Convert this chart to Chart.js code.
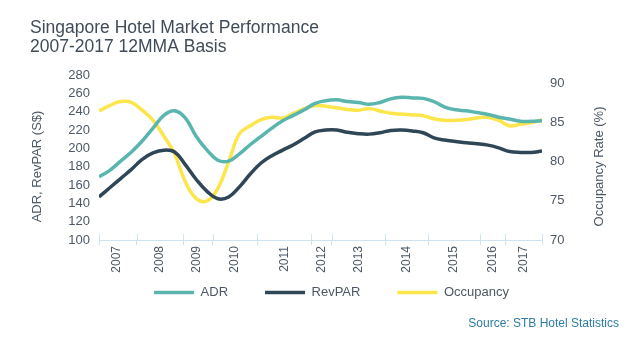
<!DOCTYPE html>
<html>
<head>
<meta charset="utf-8">
<script src="https://cdn.jsdelivr.net/npm/chart.js@4.4.0/dist/chart.umd.min.js"></script>
<style>
  html, body { margin: 0; padding: 0; background: #fff; }
  #wrap { width: 638px; height: 362px; }
</style>
</head>
<body>
<div id="wrap"><canvas id="hotelChart" width="638" height="362"></canvas></div>
<script>
// ---- DATA (quarterly samples of the 12MMA series) ----
const years = ['2007', '2008', '2009', '2010', '2011', '2012', '2013', '2014', '2015', '2016', '2017'];
// year separators and label centres, in sample units
const yearBounds = [0, 3.5, 7.8, 10.55, 14.65, 19.65, 21.55, 26.5, 30.45, 35.3, 37.6, 41];
const yearMids = [1.65, 5.65, 9.05, 12.6, 17.2, 20.65, 24.05, 28.5, 32.8, 36.4, 39.35];

const adr = [169, 176, 186, 196, 208, 222, 236, 241, 233, 213, 198, 187, 186, 194, 204, 213, 222, 230, 236, 242,
  249, 252, 253, 251, 250, 248, 250, 254, 255.6, 255, 254.5, 251, 245, 242, 241, 239, 237, 234, 232, 229.5, 229.5, 230];
const revpar = [147, 157, 167, 177, 188, 195, 198, 196, 182, 166, 153, 145, 147, 158, 172, 184, 192, 198, 204, 211,
  218, 220, 220, 217.5, 216, 215.5, 217, 219.5, 220, 219, 217, 211.5, 209, 207.5, 206, 205, 203.5, 200.5, 196.5, 195.5, 195.5, 197];
const occupancy = [86.5, 87.2, 87.7, 87.6, 86.6, 85.3, 83.3, 81, 77.4, 75.3, 75, 76.6, 80, 83.6, 84.6, 85.4, 85.7, 85.6, 86.2, 86.8,
  87.2, 87.1, 86.9, 86.7, 86.6, 86.8, 86.5, 86.2, 86.1, 86, 85.9, 85.5, 85.3, 85.3, 85.4, 85.6, 85.7, 85.3, 84.6, 84.8, 85, 85.4];

const leftTicks = [100, 120, 140, 160, 180, 200, 220, 240, 260, 280];
const rightTicks = [70, 75, 80, 85, 90];

// ---- STYLE ----
Chart.defaults.font.family = "'Liberation Sans', Arial, sans-serif";
Chart.defaults.color = '#4d5866';
const axisBlue = '#cfe2f2';
const textGrey = '#4d5866';

const toPts = arr => arr.map((v, i) => ({ x: i, y: v }));
const isBound = v => yearBounds.includes(v);

// axis titles (both read bottom-to-top), source note, tick marks crossing the x axis
const extras = {
  id: 'extras',
  afterLayout(chart) {
    // pull the legend up under the rotated year labels
    const lg = chart.legend;
    if (lg) { lg.top -= 27; lg.bottom -= 27; lg.left += 7; lg.right += 7; }
  },
  afterDraw(chart) {
    const { ctx, chartArea, scales } = chart;
    const midY = (chartArea.top + chartArea.bottom) / 2 + 9;
    ctx.save();
    ctx.fillStyle = textGrey;
    ctx.font = "13px 'Liberation Sans', Arial, sans-serif";
    ctx.textAlign = 'center';
    ctx.textBaseline = 'middle';
    [[scales.y.left + 7, 'ADR, RevPAR (S$)'], [scales.y1.right - 20, 'Occupancy Rate (%)']].forEach(([x, t]) => {
      ctx.save();
      ctx.translate(x, midY);
      ctx.rotate(-Math.PI / 2);
      ctx.fillText(t, 0, 0);
      ctx.restore();
    });

    ctx.fillStyle = '#2d7ca3';
    ctx.font = "12px 'Liberation Sans', Arial, sans-serif";
    ctx.textAlign = 'right';
    ctx.fillText('Source: STB Hotel Statistics', scales.y1.right, 324);

    ctx.strokeStyle = axisBlue;
    ctx.lineWidth = 1;
    yearBounds.forEach(b => {
      const x = Math.round(scales.x.getPixelForValue(b)) + 0.5;
      ctx.beginPath();
      ctx.moveTo(x, chartArea.bottom);
      ctx.lineTo(x, chartArea.bottom - 6);
      ctx.stroke();
    });
    ctx.restore();
  }
};

new Chart(document.getElementById('hotelChart'), {
  type: 'line',
  data: {
    datasets: [
      { label: 'ADR', data: toPts(adr), borderColor: '#5bb5af', backgroundColor: '#5bb5af', borderWidth: 3.5, yAxisID: 'y' },
      { label: 'RevPAR', data: toPts(revpar), borderColor: '#2f4657', backgroundColor: '#2f4657', borderWidth: 3.5, yAxisID: 'y' },
      { label: 'Occupancy', data: toPts(occupancy), borderColor: '#fde54c', backgroundColor: '#fde54c', borderWidth: 3.5, yAxisID: 'y1' }
    ]
  },
  options: {
    responsive: false,
    animation: false,
    layout: { padding: { left: 30, right: 19, top: 0, bottom: 26 } },
    elements: {
      point: { radius: 0 },
      line: { tension: 0.4 }
    },
    plugins: {
      title: {
        display: true,
        text: ['Singapore Hotel Market Performance', '2007-2017 12MMA Basis'],
        align: 'start',
        color: '#3f4c5a',
        font: { size: 17.5, weight: 'normal', lineHeight: 1.1 },
        padding: { top: 18.5, bottom: 18 }
      },
      legend: {
        position: 'bottom',
        labels: {
          usePointStyle: true,
          pointStyle: 'line',
          pointStyleWidth: 40,
          boxHeight: 4,
          padding: 37,
          color: textGrey,
          font: { size: 13 }
        }
      },
      tooltip: { enabled: false }
    },
    scales: {
      x: {
        type: 'linear',
        min: 0,
        max: 41,
        afterBuildTicks: s => {
          s.ticks = [...yearBounds, ...yearMids].sort((a, b) => a - b).map(v => ({ value: v }));
        },
        afterFit: s => { s.height = 36; },
        ticks: {
          autoSkip: false,
          minRotation: 90,
          maxRotation: 90,
          padding: 1,
          color: textGrey,
          font: { size: 12 },
          callback: v => {
            const i = yearMids.indexOf(v);
            return i >= 0 ? years[i] : '';
          }
        },
        grid: {
          drawOnChartArea: false,
          tickLength: 5,
          color: c => (c.tick && isBound(c.tick.value) ? axisBlue : 'rgba(0,0,0,0)')
        },
        border: { color: axisBlue, width: 1 }
      },
      y: {
        position: 'left',
        min: 100,
        max: 280,
        afterBuildTicks: s => { s.ticks = leftTicks.map(v => ({ value: v })); },
        afterFit: s => { s.width = 69; },
        ticks: { autoSkip: false, padding: 9, font: { size: 13 }, color: textGrey },
        grid: { display: false, drawTicks: false },
        border: { display: false }
      },
      y1: {
        position: 'right',
        min: 70,
        max: 91.1,
        afterBuildTicks: s => { s.ticks = rightTicks.map(v => ({ value: v })); },
        afterFit: s => { s.width = 77; },
        ticks: { autoSkip: false, padding: 8, font: { size: 13 }, color: textGrey },
        grid: { display: false, drawTicks: false },
        border: { display: false }
      }
    }
  },
  plugins: [extras]
});
</script>
</body>
</html>
